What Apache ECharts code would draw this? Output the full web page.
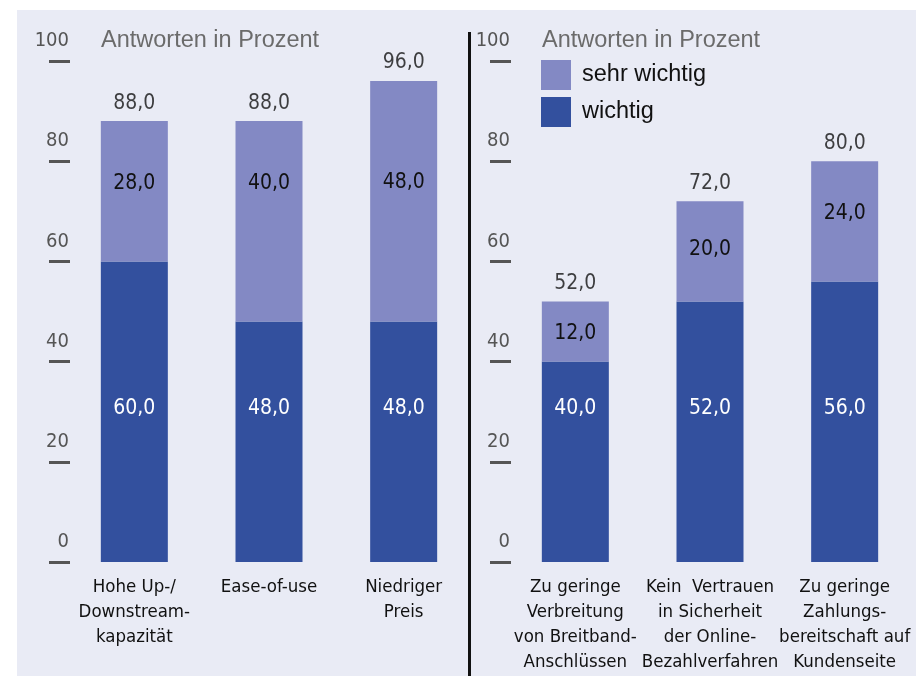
<!DOCTYPE html>
<html>
<head>
<meta charset="utf-8">
<script src="https://cdn.jsdelivr.net/npm/echarts@6/dist/echarts.min.js"></script>
<style>
html,body{margin:0;padding:0;background:#fff;}
#c{width:916px;height:676px;}
</style>
</head>
<body>
<div id="c"></div>
<script>
// ---- data ----
const categoriesLeft = ['Hohe Up-/\nDownstream-\nkapazität', 'Ease-of-use', 'Niedriger\nPreis'];
const categoriesRight = ['Zu geringe\nVerbreitung\nvon Breitband-\nAnschlüssen', 'Kein  Vertrauen\nin Sicherheit\nder Online-\nBezahlverfahren', 'Zu geringe\nZahlungs-\nbereitschaft auf\nKundenseite'];
const wichtigLeft = [60, 48, 48];
const sehrWichtigLeft = [28, 40, 48];
const totalLeft = [88, 88, 96];
const wichtigRight = [40, 52, 56];
const sehrWichtigRight = [12, 20, 24];
const totalRight = [52, 72, 80];
const yMin = 0, yMax = 100, yStep = 20;
const axisTitle = 'Antworten in Prozent';
const seriesNames = ['sehr wichtig', 'wichtig'];

// ---- styling ----
const NARROW = "'Liberation Sans Narrow', 'DejaVu Sans Condensed', sans-serif";
const REGULAR = "'Liberation Sans', Arial, sans-serif";
const DARK = '#33509e';
const LIGHT = '#8389c4';
const fmt = v => (typeof v === 'object' ? v.value : v).toFixed(1).replace('.', ',');
const topLabelDistLeft = [50, 50, 90];
const topLabelDistRight = [20, 36, 40];

const chart = echarts.init(document.getElementById('c'), null, {renderer: 'canvas'});

function yAxisCfg(gi) {
  return {
    gridIndex: gi, type: 'value', min: yMin, max: yMax, interval: yStep,
    offset: -3,
    axisLine: {show: false},
    axisTick: {show: true, length: 21, lineStyle: {color: '#555', width: 3}},
    splitLine: {show: false},
    axisLabel: {
      margin: 1, color: '#555', fontFamily: NARROW, fontSize: 20,
      verticalAlign: 'bottom', lineHeight: 22, padding: [0, 0, 9, 0]
    }
  };
}
function xAxisCfg(gi, cats) {
  return {
    gridIndex: gi, type: 'category', data: cats,
    axisLine: {show: false}, axisTick: {show: false},
    axisLabel: {interval: 0, margin: 13, color: '#111', fontFamily: NARROW, fontSize: 18.5, lineHeight: 25}
  };
}
function barSeries(gi, stack, wichtig, sehr, dists) {
  return [
    {
      name: 'wichtig', type: 'bar', stack: stack, xAxisIndex: gi, yAxisIndex: gi,
      barWidth: 67, itemStyle: {color: DARK},
      label: {show: true, position: 'insideBottom', distance: 141, color: '#fff',
              fontFamily: NARROW, fontSize: 21, lineHeight: 24, formatter: p => fmt(p.value)},
      data: wichtig
    },
    {
      name: 'sehr wichtig', type: 'bar', stack: stack, xAxisIndex: gi, yAxisIndex: gi,
      barWidth: 67, itemStyle: {color: LIGHT},
      label: {show: true, position: 'insideTop', color: '#111',
              fontFamily: NARROW, fontSize: 21, lineHeight: 24, formatter: p => fmt(p.value)},
      data: sehr.map((v, i) => ({value: v, label: {distance: dists[i]}}))
    }
  ];
}
function totalSeries(gi, totals) {
  return {
    name: 'Summe', type: 'scatter', xAxisIndex: gi, yAxisIndex: gi,
    symbolSize: 0, silent: true,
    label: {show: true, position: 'top', distance: 6, color: '#111',
            fontFamily: NARROW, fontSize: 21, lineHeight: 24, formatter: p => fmt(p.value)},
    data: totals
  };
}

const option = {
  backgroundColor: '#fff',
  animation: false,
  graphic: [
    {type: 'rect', z: -10, shape: {x: 17, y: 10, width: 899, height: 666}, style: {fill: '#e9ebf5'}},
    {type: 'rect', z: 10, shape: {x: 468, y: 32, width: 3, height: 644}, style: {fill: '#111'}}
  ],
  title: [
    {text: axisTitle, left: 101, top: 29, textStyle: {color: '#6b6b6b', fontFamily: REGULAR, fontSize: 23.5, fontWeight: 'normal', lineHeight: 24}, padding: 0},
    {text: axisTitle, left: 542, top: 29, textStyle: {color: '#6b6b6b', fontFamily: REGULAR, fontSize: 23.5, fontWeight: 'normal', lineHeight: 24}, padding: 0}
  ],
  legend: {
    data: seriesNames, orient: 'vertical', left: 541, top: 60, padding: 0,
    itemWidth: 30, itemHeight: 30, itemGap: 7, icon: 'rect',
    textStyle: {color: '#111', fontFamily: REGULAR, fontSize: 23.5, padding: [0, 0, 0, 6]}
  },
  grid: [
    {left: 67, width: 404, top: 61, height: 501},
    {left: 508, width: 404, top: 61, height: 501}
  ],
  xAxis: [xAxisCfg(0, categoriesLeft), xAxisCfg(1, categoriesRight)],
  yAxis: [yAxisCfg(0), yAxisCfg(1)],
  series: [
    ...barSeries(0, 'L', wichtigLeft, sehrWichtigLeft, topLabelDistLeft),
    ...barSeries(1, 'R', wichtigRight, sehrWichtigRight, topLabelDistRight),
    totalSeries(0, totalLeft),
    totalSeries(1, totalRight)
  ]
};
chart.setOption(option);
</script>
</body>
</html>
